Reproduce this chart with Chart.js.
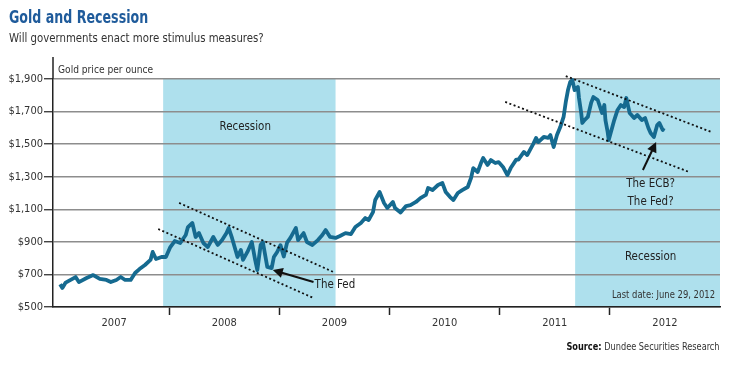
<!DOCTYPE html>
<html>
<head>
<meta charset="utf-8">
<script src="https://cdn.jsdelivr.net/npm/chart.js@4.4.0/dist/chart.umd.min.js"></script>
<style>
  body { margin: 0; background: #fff; width: 729px; height: 378px; overflow: hidden; position: relative;
         font-family: "Liberation Sans Narrow", "DejaVu Sans Condensed", "Roboto", sans-serif; }
  #chart { position: absolute; left: 0; top: 0; }
  .title { position: absolute; left: 9px; top: 8px; font-size: 18px; font-weight: bold; color: #1f5b9b; line-height: 18px;
           white-space: nowrap; transform: scaleX(0.78); transform-origin: 0 0; }
  .subtitle { position: absolute; left: 9px; top: 31px; font-size: 13px; color: #333; line-height: 14px;
              white-space: nowrap; transform: scaleX(0.87); transform-origin: 0 0; }
  .source { position: absolute; right: 9px; top: 341px; font-size: 11px; color: #333; line-height: 12px;
            white-space: nowrap; transform: scaleX(0.83); transform-origin: 100% 0; }
  .source b { color: #111; }
</style>
</head>
<body>
<canvas id="chart" width="729" height="378"></canvas>
<div class="title">Gold and Recession</div>
<div class="subtitle">Will governments enact more stimulus measures?</div>
<div class="source"><b>Source:</b> Dundee Securities Research</div>
<script>
const FONT = '"Liberation Sans Narrow", "DejaVu Sans Condensed", "Roboto", sans-serif';

// gold price, decimal year / US$ per ounce
const goldDates = [2007.01,2007.03,2007.06,2007.15,2007.18,2007.25,2007.31,2007.37,2007.43,2007.47,2007.52,2007.56,2007.60,2007.65,2007.69,2007.73,2007.78,2007.83,2007.85,2007.88,2007.93,2007.97,
  2008.01,2008.05,2008.10,2008.15,2008.17,2008.21,2008.24,2008.27,2008.31,2008.35,2008.40,2008.44,2008.48,2008.52,2008.54,2008.57,2008.62,2008.65,2008.67,2008.71,2008.75,2008.78,2008.80,2008.83,2008.85,2008.89,2008.93,2008.95,2008.98,
  2009.01,2009.04,2009.07,2009.10,2009.15,2009.17,2009.22,2009.25,2009.30,2009.35,2009.39,2009.42,2009.46,2009.51,2009.55,2009.60,2009.65,2009.69,2009.74,2009.78,2009.81,2009.85,2009.87,2009.91,2009.95,2009.98,
  2010.03,2010.05,2010.10,2010.15,2010.19,2010.24,2010.28,2010.33,2010.35,2010.39,2010.44,2010.48,2010.51,2010.55,2010.58,2010.62,2010.66,2010.71,2010.74,2010.76,2010.80,2010.83,2010.85,2010.89,2010.92,2010.96,2010.99,
  2011.03,2011.07,2011.10,2011.15,2011.17,2011.22,2011.25,2011.30,2011.33,2011.35,2011.40,2011.44,2011.46,2011.49,2011.52,2011.55,2011.58,2011.60,2011.62,2011.64,2011.66,2011.68,2011.71,2011.72,2011.74,2011.75,2011.77,2011.80,2011.83,2011.85,2011.89,2011.93,2011.95,2011.96,2011.98,2011.99,
  2012.02,2012.04,2012.07,2012.10,2012.13,2012.15,2012.18,2012.22,2012.25,2012.29,2012.32,2012.35,2012.37,2012.40,2012.43,2012.45,2012.48,2012.49];
const goldPrices = [640,617,650,684,653,678,696,672,666,653,666,684,666,666,709,733,758,789,838,795,807,807,
  868,905,893,942,991,1016,930,954,893,868,930,881,911,954,985,924,807,850,789,838,899,789,727,881,899,746,739,807,838,
  880,810,895,924,985,911,954,899,881,911,942,973,930,924,936,954,948,991,1016,1046,1034,1083,1157,1206,1139,1108,
  1145,1108,1080,1120,1125,1145,1169,1188,1231,1218,1249,1261,1206,1175,1157,1200,1218,1237,1292,1353,1329,1384,1415,1372,1402,1384,1390,
  1360,1310,1353,1405,1405,1452,1433,1495,1538,1513,1544,1538,1556,1482,1556,1605,1667,1759,1832,1882,1894,1832,1851,1783,1691,1630,1648,1667,1753,1789,1771,1691,1740,1648,1575,1525,
  1599,1648,1710,1740,1728,1783,1691,1660,1679,1648,1660,1599,1568,1544,1617,1630,1587,1599];

// dotted trend channels [start, end]
const fedUpperX = [2008.09, 2009.49], fedUpperY = [1139, 715];
const fedLowerX = [2007.90, 2009.31], fedLowerY = [979, 555];
const ecbUpperX = [2011.60, 2012.92], ecbUpperY = [1918, 1575];
const ecbLowerX = [2011.05, 2012.72], ecbLowerY = [1759, 1329];

// recession periods
const recessionStart = [2007.945, 2011.685];
const recessionEnd = [2009.51, 2013.0];

const yearTicks = [2008, 2009, 2010, 2011, 2012];
const yearLabels = ['2007', '2008', '2009', '2010', '2011', '2012'];
const yearLabelPos = [2007.5, 2008.5, 2009.5, 2010.5, 2011.5, 2012.5];

const pts = (xs, ys) => xs.map((x, i) => ({ x: x, y: ys[i] }));

const trendStyle = { borderColor: '#111', borderWidth: 1.8, borderDash: [2, 2.5], pointRadius: 0, fill: false };

// narrow text: the original uses a condensed face
function narrowText(ctx, text, x, y, align, sx) {
  ctx.save();
  ctx.translate(x, y);
  ctx.scale(sx, 1);
  ctx.textAlign = align;
  ctx.fillText(text, 0, 0);
  ctx.restore();
}

const decorPlugin = {
  id: 'decor',
  beforeDraw(chart) {
    const { ctx, scales: { x, y } } = chart;
    ctx.save();
    ctx.fillStyle = '#aee0ed';
    recessionStart.forEach((s, i) => {
      const x0 = x.getPixelForValue(s), x1 = x.getPixelForValue(recessionEnd[i]);
      const y0 = y.getPixelForValue(1900), y1 = y.getPixelForValue(500);
      ctx.fillRect(x0, y0, x1 - x0, y1 - y0);
    });
    // y axis line continues above the top gridline
    ctx.strokeStyle = '#222';
    ctx.lineWidth = 1.5;
    ctx.beginPath();
    ctx.moveTo(x.left, y.top);
    ctx.lineTo(x.left, y.top - 22);
    ctx.stroke();
    ctx.fillStyle = '#333';
    ctx.font = '11px ' + FONT;
    ctx.textBaseline = 'middle';
    narrowText(ctx, 'Gold price per ounce', x.left + 5, y.top - 9, 'left', 0.92);
    ctx.restore();
  },
  afterDatasetsDraw(chart) {
    const { ctx, scales: { x, y } } = chart;
    const px = v => x.getPixelForValue(v), py = v => y.getPixelForValue(v);
    ctx.save();
    ctx.fillStyle = '#222';
    ctx.textBaseline = 'middle';
    ctx.font = '13px ' + FONT;
    narrowText(ctx, 'Recession', px(2008.69), py(1605), 'center', 0.88);
    narrowText(ctx, 'Recession', px(2012.37), py(807), 'center', 0.88);
    narrowText(ctx, 'The ECB?', px(2012.37), py(1255), 'center', 0.88);
    narrowText(ctx, 'The Fed?', px(2012.37), py(1145), 'center', 0.88);
    narrowText(ctx, 'The Fed', px(2009.32), py(635), 'left', 0.88);
    ctx.font = '11px ' + FONT;
    ctx.fillStyle = '#333';
    narrowText(ctx, 'Last date: June 29, 2012', x.right - 5, py(570), 'right', 0.85);
    // arrows
    const arrow = (x0, y0, x1, y1) => {
      const ax = px(x0), ay = py(y0), bx = px(x1), by = py(y1);
      const ang = Math.atan2(by - ay, bx - ax);
      ctx.strokeStyle = '#111';
      ctx.fillStyle = '#111';
      ctx.lineWidth = 2;
      ctx.beginPath();
      ctx.moveTo(ax, ay);
      ctx.lineTo(bx - 6 * Math.cos(ang), by - 6 * Math.sin(ang));
      ctx.stroke();
      ctx.beginPath();
      ctx.moveTo(bx, by);
      ctx.lineTo(bx - 10 * Math.cos(ang) + 5 * Math.sin(ang), by - 10 * Math.sin(ang) - 5 * Math.cos(ang));
      ctx.lineTo(bx - 10 * Math.cos(ang) - 5 * Math.sin(ang), by - 10 * Math.sin(ang) + 5 * Math.cos(ang));
      ctx.closePath();
      ctx.fill();
    };
    arrow(2009.31, 653, 2008.94, 727);
    arrow(2012.30, 1341, 2012.42, 1513);
    ctx.restore();
  }
};

new Chart(document.getElementById('chart'), {
  type: 'line',
  data: {
    datasets: [
      { data: pts(goldDates, goldPrices), borderColor: '#156a90', borderWidth: 3.8, pointRadius: 0, tension: 0, borderJoinStyle: 'round', order: 1 },
      Object.assign({ data: pts(fedUpperX, fedUpperY), order: 0 }, trendStyle),
      Object.assign({ data: pts(fedLowerX, fedLowerY), order: 0 }, trendStyle),
      Object.assign({ data: pts(ecbUpperX, ecbUpperY), order: 0 }, trendStyle),
      Object.assign({ data: pts(ecbLowerX, ecbLowerY), order: 0 }, trendStyle)
    ]
  },
  options: {
    responsive: false,
    animation: false,
    clip: false,
    layout: { padding: { left: 0, top: 79, right: 9, bottom: 0 } },
    plugins: { legend: { display: false }, tooltip: { enabled: false } },
    scales: {
      x: {
        type: 'linear',
        min: 2006.945,
        max: 2013.0,
        afterFit: s => { s.height = 71; },
        afterBuildTicks: s => {
          s.ticks = yearTicks.concat(yearLabelPos).sort((a, b) => a - b).map(v => ({ value: v }));
        },
        grid: {
          drawOnChartArea: false,
          tickLength: 8,
          tickWidth: 1.5,
          tickColor: c => (c.tick && Number.isInteger(c.tick.value)) ? '#222' : 'rgba(0,0,0,0)'
        },
        border: { display: true, color: '#222', width: 1.5 },
        ticks: {
          autoSkip: false,
          maxRotation: 0,
          padding: 2,
          color: '#333',
          font: { family: FONT, size: 11 },
          callback: v => {
            const i = yearLabelPos.indexOf(v);
            return i >= 0 ? yearLabels[i] : '';
          }
        }
      },
      y: {
        min: 500,
        max: 1900,
        afterFit: s => { s.width = 53; },
        grid: { color: '#8d8d8d', lineWidth: 1.5, tickLength: 9, tickColor: '#222', tickWidth: 1.2 },
        border: { display: true, color: '#222', width: 1.5 },
        ticks: {
          stepSize: 200,
          padding: 1,
          color: '#333',
          font: { family: FONT, size: 11 },
          callback: v => '$' + v.toLocaleString('en-US')
        }
      }
    }
  },
  plugins: [decorPlugin]
});
</script>
</body>
</html>
